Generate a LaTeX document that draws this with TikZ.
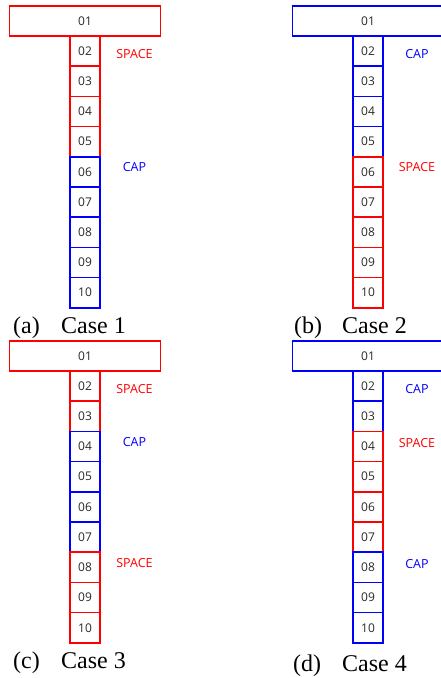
\documentclass[tikz,border=0pt]{standalone}
\usepackage{fontspec}
\setmainfont{Liberation Serif}
\newfontfamily\uifont{Open Sans}
\definecolor{cr}{RGB}{255,0,0}
\definecolor{cb}{RGB}{0,0,255}
\definecolor{numtxt}{RGB}{40,40,40}
\tikzset{
  cell/.style={draw, line width=1.7pt, minimum width=30pt, minimum height=30.2pt,
    inner sep=0pt, font=\uifont\fontsize{12}{12}\selectfont, text=numtxt},
  topcell/.style={cell, minimum width=151pt},
  lab/.style={inner sep=0pt, font=\uifont\fontsize{12.5}{12.5}\selectfont},
  capt/.style={anchor=base west, inner sep=0pt, font=\fontsize{24}{24}\selectfont},
}
\begin{document}
\begin{tikzpicture}[x=1pt,y=-1pt]
\useasboundingbox (0,0) rectangle (441,678);
% ---------- (a) ----------
\node[topcell, draw=cr] (a1) at (85,21) {01};
\foreach \c [count=\i from 2] in {cr,cr,cr,cr,cb,cb,cb,cb,cb}
  \node[cell, draw=\c] (a\i) at (85,{36+30.2*(\i-2)+15.1}) {\ifnum\i<10 0\fi\i};
\node[lab, text=cr] (alab1) at (134.5,54) {SPACE};
\node[lab, text=cb] (alab2) at (134.5,167) {CAP};
\node[capt] (acap1) at (13,333) {(a)};
\node[capt] (acap2) at (61,333) {Case 1};
% ---------- (b) ----------
\node[topcell, draw=cb] (b1) at (368,21) {01};
\foreach \c [count=\i from 2] in {cb,cb,cb,cb,cr,cr,cr,cr,cr}
  \node[cell, draw=\c] (b\i) at (368,{36+30.2*(\i-2)+15.1}) {\ifnum\i<10 0\fi\i};
\node[lab, text=cb] (blab1) at (417,54) {CAP};
\node[lab, text=cr] (blab2) at (417,167) {SPACE};
\node[capt] (bcap1) at (294,333) {(b)};
\node[capt] (bcap2) at (342,333) {Case 2};
% ---------- (c) ----------
\node[topcell, draw=cr] (c1) at (85,356) {01};
\foreach \c [count=\i from 2] in {cr,cr,cb,cb,cb,cb,cr,cr,cr}
  \node[cell, draw=\c] (c\i) at (85,{371+30.2*(\i-2)+15.1}) {\ifnum\i<10 0\fi\i};
\node[lab, text=cr] (clab1) at (134.5,389) {SPACE};
\node[lab, text=cb] (clab2) at (134.5,442) {CAP};
\node[lab, text=cr] (clab3) at (134.5,563) {SPACE};
\node[capt] (ccap1) at (13,668) {(c)};
\node[capt] (ccap2) at (61,668) {Case 3};
% ---------- (d) ----------
\node[topcell, draw=cb] (d1) at (368,356) {01};
\foreach \c [count=\i from 2] in {cb,cb,cr,cr,cr,cr,cb,cb,cb}
  \node[cell, draw=\c] (d\i) at (368,{371+30.2*(\i-2)+15.1}) {\ifnum\i<10 0\fi\i};
\node[lab, text=cb] (dlab1) at (417,389) {CAP};
\node[lab, text=cr] (dlab2) at (417,443) {SPACE};
\node[lab, text=cb] (dlab3) at (417,564) {CAP};
\node[capt] (dcap1) at (293,671) {(d)};
\node[capt] (dcap2) at (342,671) {Case 4};
\end{tikzpicture}
\end{document}
